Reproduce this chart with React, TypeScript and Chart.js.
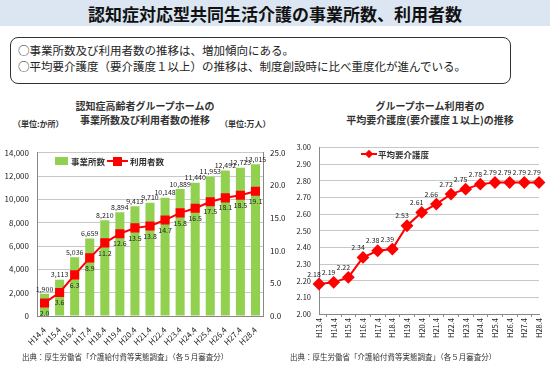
import React, { useEffect, useRef } from 'react';
import { Chart, registerables } from 'chart.js';

Chart.register(...registerables);

const FONT = '"Noto Sans CJK JP", "Noto Sans", sans-serif';

const leftCategories = ['H14.4', 'H15.4', 'H16.4', 'H17.4', 'H18.4', 'H19.4', 'H20.4', 'H21.4', 'H22.4', 'H23.4', 'H24.4', 'H25.4', 'H26.4', 'H27.4', 'H28.4'];
const facilities = [1900, 3113, 5036, 6659, 8210, 8894, 9413, 9710, 10148, 10889, 11440, 11953, 12492, 12723, 13015];
const users = [2.0, 3.6, 6.3, 8.9, 11.2, 12.6, 13.5, 13.8, 14.7, 15.8, 16.5, 17.5, 18.1, 18.5, 19.1];

const rightCategories = ['H13.4', 'H14.4', 'H15.4', 'H16.4', 'H17.4', 'H18.4', 'H19.4', 'H20.4', 'H21.4', 'H22.4', 'H23.4', 'H24.4', 'H25.4', 'H26.4', 'H27.4', 'H28.4'];
const careLevel = [2.18, 2.19, 2.22, 2.34, 2.38, 2.39, 2.53, 2.61, 2.66, 2.72, 2.75, 2.78, 2.79, 2.79, 2.79, 2.79];

const leftYTicks = { min: 0, max: 14000, step: 2000 };
const leftY1Ticks = { min: 0, max: 25, step: 5 };
const rightYTicks = { min: 2.0, max: 3.0, step: 0.1 };

const valueLabels = {
  id: 'valueLabels',
  afterDatasetsDraw(chart: any) {
    const ctx = chart.ctx;
    chart.data.datasets.forEach((ds: any, i: number) => {
      const cfg = ds._labelCfg;
      if (!cfg) return;
      const meta = chart.getDatasetMeta(i);
      ctx.save();
      ctx.font = `${cfg.size}px ${FONT}`;
      ctx.fillStyle = '#222';
      ctx.textAlign = 'center';
      ctx.textBaseline = 'middle';
      meta.data.forEach((el: any, j: number) => {
        const v = ds.data[j];
        ctx.fillText(cfg.format(v), el.x + cfg.dx, el.y + cfg.dy);
      });
      ctx.restore();
    });
  },
};

function LeftChart() {
  const ref = useRef<HTMLCanvasElement>(null);
  useEffect(() => {
    const chart = new Chart(ref.current!, {
      type: 'bar',
      data: {
        labels: leftCategories,
        datasets: [
          {
            type: 'line',
            label: '利用者数',
            data: users,
            yAxisID: 'y1',
            borderColor: '#ff0000',
            backgroundColor: '#ff0000',
            borderWidth: 2,
            pointStyle: 'rect',
            pointRadius: 5,
            order: 0,
            _labelCfg: { size: 7, dx: 0, dy: 10, format: (v: number) => v.toFixed(1) },
          } as any,
          {
            type: 'bar',
            label: '事業所数',
            data: facilities,
            yAxisID: 'y',
            backgroundColor: '#92d050',
            barPercentage: 0.6,
            categoryPercentage: 1,
            order: 1,
            _labelCfg: { size: 7, dx: 0, dy: -5, format: (v: number) => v.toLocaleString('en-US') },
          } as any,
        ],
      },
      options: {
        responsive: false,
        animation: false,
        layout: { padding: { top: 8, left: 0, right: 0, bottom: 0 } },
        plugins: { legend: { display: false }, tooltip: { enabled: false } },
        scales: {
          x: {
            grid: { display: false },
            border: { color: '#888' },
            ticks: { font: { family: FONT, size: 8 }, color: '#222', minRotation: 45, maxRotation: 45, padding: 1, autoSkip: false },
            afterFit: (s: any) => { s.height = 39; },
          },
          y: {
            position: 'left',
            min: leftYTicks.min,
            max: leftYTicks.max,
            ticks: {
              stepSize: leftYTicks.step,
              font: { family: FONT, size: 8 },
              color: '#222',
              padding: 8,
              callback: (v: any) => Number(v).toLocaleString('en-US'),
            },
            grid: { color: '#c8c8c8', drawTicks: false },
            border: { color: '#888' },
            afterFit: (s: any) => { s.width = 37; },
          },
          y1: {
            position: 'right',
            min: leftY1Ticks.min,
            max: leftY1Ticks.max,
            ticks: {
              stepSize: leftY1Ticks.step,
              font: { family: FONT, size: 8 },
              color: '#222',
              padding: 7,
              callback: (v: any) => Number(v).toFixed(1),
            },
            grid: { drawOnChartArea: false, drawTicks: false },
            border: { color: '#888' },
            afterFit: (s: any) => { s.width = 37; },
          },
        },
      } as any,
      plugins: [valueLabels],
    });
    return () => chart.destroy();
  }, []);
  return <canvas ref={ref} width={300} height={215} style={{ position: 'absolute', left: 0, top: 140 }} />;
}

function RightChart() {
  const ref = useRef<HTMLCanvasElement>(null);
  useEffect(() => {
    const chart = new Chart(ref.current!, {
      type: 'line',
      data: {
        labels: rightCategories,
        datasets: [
          {
            label: '平均要介護度',
            data: careLevel,
            borderColor: '#ff0000',
            backgroundColor: '#ff0000',
            borderWidth: 2,
            pointStyle: 'rectRot',
            pointRadius: 5,
            _labelCfg: { size: 7, dx: -5, dy: -10, format: (v: number) => v.toFixed(2) },
          } as any,
        ],
      },
      options: {
        responsive: false,
        animation: false,
        layout: { padding: { top: 8, left: 0, right: 11, bottom: 0 } },
        plugins: { legend: { display: false }, tooltip: { enabled: false } },
        scales: {
          x: {
            grid: { display: true, drawOnChartArea: false, offset: true, tickLength: 3, color: '#888' },
            border: { color: '#888' },
            ticks: { font: { family: FONT, size: 7.5 }, color: '#222', minRotation: 90, maxRotation: 90, padding: 1, autoSkip: false },
            afterFit: (s: any) => { s.height = 41; },
          },
          y: {
            min: rightYTicks.min,
            max: rightYTicks.max,
            ticks: {
              stepSize: rightYTicks.step,
              font: { family: FONT, size: 7.5 },
              color: '#222',
              padding: 8,
              callback: (v: any) => Number(v).toFixed(2),
            },
            grid: { color: '#c8c8c8', drawTicks: false },
            border: { color: '#888' },
            afterFit: (s: any) => { s.width = 49; },
          },
        },
      } as any,
      plugins: [valueLabels],
    });
    return () => chart.destroy();
  }, []);
  return <canvas ref={ref} width={280} height={220} style={{ position: 'absolute', left: 270, top: 135 }} />;
}

const abs = (extra: React.CSSProperties): React.CSSProperties => ({ position: 'absolute', whiteSpace: 'nowrap', ...extra });

export default function App() {
  return (
    <div style={{ position: 'fixed', left: 0, top: 0, width: 550, height: 367, background: '#fff', fontFamily: FONT, color: '#222', overflow: 'hidden' }}>
      <div style={abs({ left: 0, top: 0, width: 550, height: 26, background: '#dce6f2', textAlign: 'center', fontWeight: 'bold', fontSize: 17, lineHeight: '27px', color: '#111' })}>
        認知症対応型共同生活介護の事業所数、利用者数
      </div>
      <div style={abs({ left: 10, top: 37, width: 499, height: 45, border: '1.5px solid #333', borderRadius: 8 })} />
      <div style={abs({ left: 18, top: 42, fontSize: 11.5, lineHeight: '16px' })}>
        ○事業所数及び利用者数の推移は、増加傾向にある。
        <br />
        ○平均要介護度（要介護度１以上）の推移は、制度創設時に比べ重度化が進んでいる。
      </div>

      <div style={abs({ left: 45, top: 99, width: 200, textAlign: 'center', fontSize: 10, lineHeight: '14px', fontWeight: 'bold', color: '#333' })}>
        認知症高齢者グループホームの
        <br />
        事業所数及び利用者数の推移
      </div>
      <div style={abs({ left: 13, top: 118, fontSize: 8, fontWeight: 'bold', color: '#333' })}>（単位:か所）</div>
      <div style={abs({ left: 220, top: 118, fontSize: 8, fontWeight: 'bold', color: '#333' })}>（単位:万人）</div>

      <div style={abs({ left: 330, top: 99, width: 200, textAlign: 'center', fontSize: 10, lineHeight: '14px', fontWeight: 'bold', color: '#333' })}>
        グループホーム利用者の
        <br />
        平均要介護度(要介護度１以上)の推移
      </div>

      <LeftChart />
      <RightChart />

      {/* legends */}
      <div style={abs({ left: 55, top: 157, width: 13, height: 8, background: '#92d050' })} />
      <div style={abs({ left: 71, top: 154, fontSize: 8.5, lineHeight: '14px', fontWeight: 'bold', color: '#333' })}>事業所数</div>
      <div style={abs({ left: 107, top: 160, width: 21, height: 2, background: '#ff0000' })} />
      <div style={abs({ left: 113, top: 157, width: 9, height: 9, background: '#ff0000' })} />
      <div style={abs({ left: 130, top: 154, fontSize: 8.5, lineHeight: '14px', fontWeight: 'bold', color: '#333' })}>利用者数</div>

      <div style={abs({ left: 361, top: 153, width: 16, height: 2, background: '#ff0000' })} />
      <div style={abs({ left: 366, top: 151, width: 6, height: 6, background: '#ff0000', transform: 'rotate(45deg)' })} />
      <div style={abs({ left: 378, top: 147, fontSize: 8.5, lineHeight: '14px', fontWeight: 'bold', color: '#333' })}>平均要介護度</div>

      <div style={abs({ left: 22, top: 351, fontSize: 7.5, lineHeight: '12px', color: '#333' })}>出典：厚生労働省「介護給付費等実態調査」（各５月審査分）</div>
      <div style={abs({ left: 290, top: 351, fontSize: 7.5, lineHeight: '12px', color: '#333' })}>出典：厚生労働省「介護給付費等実態調査」（各５月審査分）</div>
    </div>
  );
}
